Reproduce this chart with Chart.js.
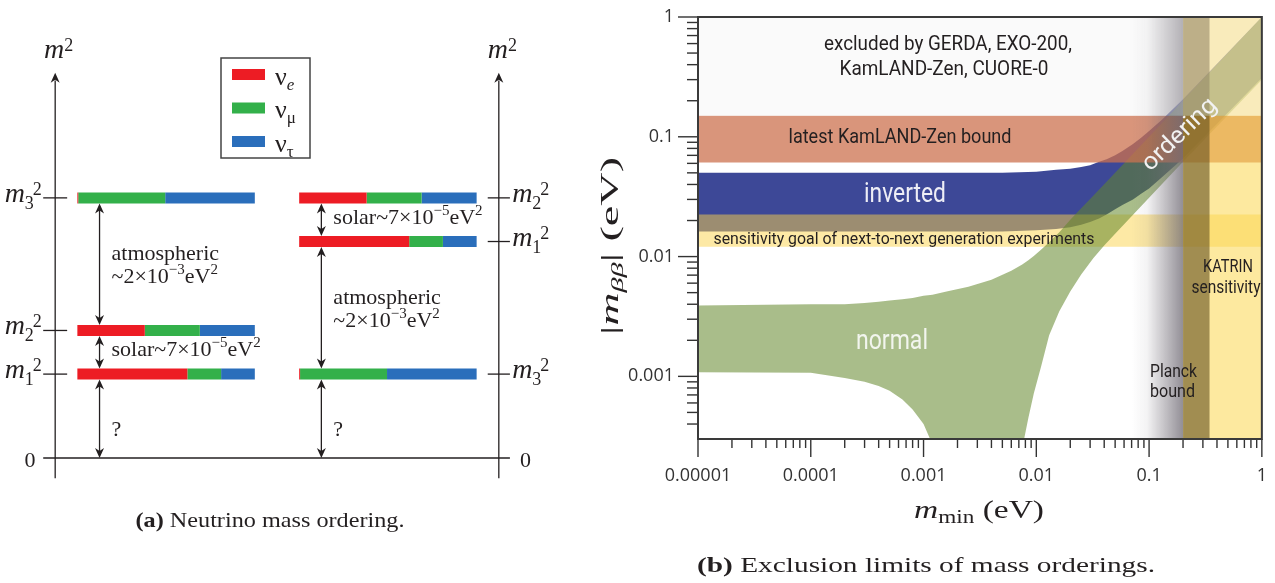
<!DOCTYPE html>
<html>
<head>
<meta charset="utf-8">
<title>Neutrino mass ordering</title>
<script src="https://cdn.jsdelivr.net/npm/chart.js"></script>
<style>
  body { margin:0; background:#fff; }
  #wrap { position:relative; width:1275px; height:583px; overflow:hidden; }
  canvas { position:absolute; top:0; }
  #left { left:0; }
  #right { left:580px; }
</style>
</head>
<body>
<div id="wrap">
  <canvas id="left" width="580" height="583"></canvas>
  <canvas id="right" width="695" height="583"></canvas>
</div>
<script>
// ---- (a) mass levels, m^2 in arbitrary units, index = mass state 1,2,3
const massStates = ['1', '2', '3'];
const normalLevels = [1.0, 1.52, 3.1];
const invertedLevels = [2.58, 3.1, 1.0];
const flavourNames = ['e', 'μ', 'τ'];
const flavourColors = ['#ed1c24', '#33b04a', '#2a6ebb'];
const eShare   = [0.62, 0.38, 0.005];
const muShare  = [0.19, 0.31, 0.49];
const tauShare = [0.19, 0.31, 0.505];

// ---- (b) |m_bb| (eV) against m_min (eV)
const normalM     = [1e-5, 1e-4, 2e-4, 3e-4, 4e-4, 5e-4, 6.5e-4, 8e-4, 0.001, 0.0012, 0.0016, 0.0025, 0.004, 0.006, 0.0075, 0.0085, 0.0095, 0.011, 0.013, 0.016, 0.02, 0.025, 0.032, 0.04, 0.05, 0.1, 0.2, 1];
const normalUpper = [0.0039, 0.0040, 0.0040, 0.0041, 0.0042, 0.0043, 0.0044, 0.0045, 0.0047, 0.0048, 0.0051, 0.0056, 0.0064, 0.0076, 0.0086, 0.0093, 0.0101, 0.0114, 0.0132, 0.016, 0.0203, 0.0253, 0.0322, 0.0402, 0.0502, 0.1, 0.2, 1];
const normalLower = [0.00108, 0.00107, 0.00097, 0.0009, 0.00083, 0.00076, 0.00064, 0.00053, 0.0004, 0.00027, 0.00012, 0.0001, 0.0001, 0.00012, 0.00025, 0.00045, 0.00072, 0.0012, 0.0022, 0.0035, 0.0051, 0.0071, 0.0097, 0.0124, 0.0155, 0.031, 0.062, 0.30];
const invertedM     = [1e-5, 0.001, 0.005, 0.01, 0.015, 0.02, 0.025, 0.03, 0.036, 0.042, 0.05, 0.058, 0.072, 0.085, 0.1, 0.13, 0.2, 1];
const invertedUpper = [0.050, 0.050, 0.050, 0.051, 0.053, 0.054, 0.056, 0.058, 0.062, 0.065, 0.070, 0.076, 0.087, 0.098, 0.112, 0.139, 0.206, 1.0];
const invertedLower = [0.0162, 0.0162, 0.0162, 0.0166, 0.0170, 0.0176, 0.0184, 0.0194, 0.0208, 0.0224, 0.0248, 0.027, 0.030, 0.0335, 0.037, 0.046, 0.066, 0.31];
const sensitivityBand = [0.0121, 0.0224];
const kamlandBand = [0.061, 0.15];
const excludedBand = [0.15, 1];
const planckFade = [0.07, 0.2];
const planckBand = [0.2, 0.345];
const katrinBand = [0.2, 1];
const xMin = 1e-5, xMax = 1, yMin = 3e-4, yMax = 1;
const xTicks = [1e-5, 1e-4, 1e-3, 1e-2, 1e-1, 1];
const xTickLabels = ['0.00001', '0.0001', '0.001', '0.01', '0.1', '1'];
const yTicks = [1e-3, 1e-2, 1e-1, 1];
const yTickLabels = ['0.001', '0.01', '0.1', '1'];

const SERIF = '"Liberation Serif", "DejaVu Serif", serif';
const NARROW = '"Liberation Sans Narrow", Roboto, "Liberation Sans", sans-serif';
const INK = '#231f20';

function seg(c, x1, y1, x2, y2) { c.beginPath(); c.moveTo(x1, y1); c.lineTo(x2, y2); c.stroke(); }
function head(c, x, y, up) {
  const d = up ? 1 : -1, L = 10, W = 4.5;
  c.beginPath(); c.moveTo(x, y); c.lineTo(x - W, y + d * L); c.lineTo(x, y + d * L * 0.7); c.lineTo(x + W, y + d * L); c.closePath(); c.fill();
}
// parts: [text, font, dy, extraAdvance]
function rich(c, parts, x, y, o = {}) {
  c.save();
  let w = 0;
  const ws = parts.map(p => { c.font = p[1]; const m = c.measureText(p[0]).width + (p[3] || 0); w += m; return m; });
  const s = o.width ? o.width / w : 1;
  c.translate(x, y);
  if (o.rot) c.rotate(o.rot);
  c.scale(s, 1);
  let cx = o.align === 'center' ? -w / 2 : o.align === 'right' ? -w : 0;
  c.fillStyle = o.color || INK;
  c.textBaseline = o.base || 'alphabetic';
  c.textAlign = 'left';
  parts.forEach((p, i) => { c.font = p[1]; c.fillText(p[0], cx, p[2] || 0); cx += ws[i]; });
  c.restore();
}
const f = (px, st) => (st ? st + ' ' : '') + px + 'px ' + SERIF;

// ---------- left panel ----------
const shares = [eShare, muShare, tauShare];
const leftSets = [];
[[normalLevels, 0.5], [invertedLevels, 5.5]].forEach(([levels, x0]) => {
  levels.forEach((lvl, i) => {
    let a = x0;
    shares.forEach((s, k) => {
      const b = a + 4 * s[i];
      leftSets.push({ data: [{ x: a, y: lvl }, { x: b, y: lvl }], borderColor: flavourColors[k],
        borderWidth: 11, borderCapStyle: 'butt', pointRadius: 0, fill: false });
      a = b;
    });
  });
});

function massLabel(i) {
  return [['m', f(28, 'italic')], [massStates[i], f(18), 7, -1], ['2', f(18), -7]];
}

const leftDecor = {
  id: 'leftDecor',
  afterDatasetsDraw(chart) {
    const c = chart.ctx, X = v => chart.scales.x.getPixelForValue(v), Y = v => chart.scales.y.getPixelForValue(v);
    c.save();
    c.strokeStyle = INK; c.fillStyle = INK; c.lineWidth = 1.3;
    [0, 10].forEach(a => { seg(c, X(a), Y(-0.24), X(a), Y(4.5)); head(c, X(a), Y(4.59), true); });
    seg(c, X(-0.27), Y(0), X(10.25), Y(0));
    normalLevels.forEach(l => seg(c, X(-0.27), Y(l), X(0.27), Y(l)));
    invertedLevels.forEach(l => seg(c, X(9.75), Y(l), X(10.25), Y(l)));

    rich(c, [['m', f(28, 'italic')], ['2', f(18), -7]], X(-0.25), 58);
    rich(c, [['m', f(28, 'italic')], ['2', f(18), -7]], X(9.75), 58);
    normalLevels.forEach((l, i) => rich(c, massLabel(i), X(-0.3), Y(l) + 4, { align: 'right' }));
    invertedLevels.forEach((l, i) => rich(c, massLabel(i), X(10.3), Y(l) + 4));
    rich(c, [['0', f(22)]], X(-0.57), Y(0) + 9, { align: 'center' });
    rich(c, [['0', f(22)]], X(10.6), Y(0) + 9, { align: 'center' });

    // gaps between levels
    [[normalLevels, 1.0], [invertedLevels, 6.0]].forEach(([levels, ax]) => {
      const order = levels.map((l, i) => i).sort((p, q) => levels[q] - levels[p]);
      const stops = order.map(i => ({ i, l: levels[i] })).concat([{ i: -1, l: 0 }]);
      for (let k = 0; k < stops.length - 1; k++) {
        const hi = stops[k], lo = stops[k + 1];
        const y1 = Y(hi.l) + 5.5, y2 = lo.i < 0 ? Y(0) : Y(lo.l) - 5.5;
        seg(c, X(ax), y1 + 3, X(ax), y2 - 3);
        head(c, X(ax), y1, true); head(c, X(ax), y2, false);
        const tx = X(ax) + 12, mid = (y1 + y2) / 2;
        const sup = (t) => [t, f(15), -9];
        if (lo.i < 0) rich(c, [['?', f(22)]], tx, mid + 17);
        else if (hi.i !== 2 && lo.i !== 2) rich(c, [['solar~7×10', f(22)], sup('−5'), ['eV', f(22)], sup('2')], tx, mid + 4);
        else {
          rich(c, [['atmospheric', f(22)]], tx, mid - 4);
          rich(c, [['~2×10', f(22)], sup('−3'), ['eV', f(22)], sup('2')], tx, mid + 19);
        }
      }
    });

    // legend
    c.lineWidth = 1.5; c.strokeStyle = '#444';
    c.strokeRect(221, 58, 89, 100);
    flavourNames.forEach((n, k) => {
      const cy = 74.5 + k * 33.5;
      c.fillStyle = flavourColors[k]; c.fillRect(232, cy - 5.5, 33, 11);
      rich(c, [['ν', f(26)], [n, k === 0 ? f(17, 'italic') : f(17), 5]], 275, cy + 10);
    });

    rich(c, [['(a)', f(22, 'bold')], [' Neutrino mass ordering.', f(22)]], 270, 527, { align: 'center', width: 269 });
    c.restore();
  }
};

new Chart(document.getElementById('left'), {
  type: 'line',
  data: { datasets: leftSets },
  options: {
    responsive: false, animation: false,
    layout: { padding: { left: 33, right: 59, top: 72, bottom: 104 } },
    plugins: { legend: { display: false }, tooltip: { enabled: false } },
    scales: {
      x: { type: 'linear', min: -0.5, max: 10.5, display: false },
      y: { type: 'linear', min: -0.25, max: 4.6, display: false }
    }
  },
  plugins: [leftDecor]
});

// ---------- right panel ----------
const clear = 'rgba(0,0,0,0)';
const pts = (xs, ys) => xs.map((x, i) => ({ x, y: ys[i] }));
function band(xs, lo, hi, color, order) {
  return [
    { data: pts(xs, lo), borderColor: clear, borderWidth: 0, fill: false, order },
    { data: pts(xs, hi), borderColor: clear, borderWidth: 0, fill: '-1', backgroundColor: color, order }
  ];
}
const hBand = (b, color, order) => ({ data: [{ x: xMin, y: b[1] }, { x: xMax, y: b[1] }], borderColor: clear, borderWidth: 0, fill: { value: b[0] }, backgroundColor: color, order });
const vBand = (b, color, order) => ({ data: [{ x: b[0], y: yMax }, { x: b[1], y: yMax }], borderColor: clear, borderWidth: 0, fill: 'start', backgroundColor: color, order });

const fadeColor = ctx => {
  const ch = ctx.chart;
  if (!ch.chartArea) return clear;
  const g = ch.ctx.createLinearGradient(ch.scales.x.getPixelForValue(planckFade[0]), 0, ch.scales.x.getPixelForValue(planckFade[1]), 0);
  g.addColorStop(0, 'rgba(110,105,115,0)');
  g.addColorStop(0.3, 'rgba(110,105,115,0.08)');
  g.addColorStop(1, 'rgba(110,105,115,0.75)');
  return g;
};

const rightSets = [
  ...band(invertedM, invertedLower, invertedUpper, 'rgba(40,52,140,0.9)', 10),
  hBand(sensitivityBand, 'rgba(251,211,75,0.5)', 9),
  ...band(normalM, normalLower, normalUpper, 'rgba(98,135,42,0.55)', 8),
  hBand(kamlandBand, 'rgba(204,114,79,0.75)', 7),
  vBand(planckFade, fadeColor, 6),
  vBand(katrinBand, 'rgba(252,215,80,0.55)', 5),
  vBand(planckBand, 'rgba(100,80,30,0.6)', 4),
  hBand(excludedBand, 'rgba(240,240,240,0.35)', 3)
];

function narrow(c, t, x, y, size, width, color, o = {}) {
  rich(c, [[t, size + 'px ' + NARROW]], x, y, Object.assign({ align: 'center', base: 'middle', width, color }, o));
}

const rightDecor = {
  id: 'rightDecor',
  afterDraw(chart) {
    const c = chart.ctx, a = chart.chartArea, sx = chart.scales.x, sy = chart.scales.y;
    c.save();
    c.strokeStyle = '#333'; c.lineWidth = 1.4;
    for (let e = -5; e <= 0; e++) for (let k = 1; k <= 9; k++) {
      const v = k * Math.pow(10, e);
      if (v < xMin * 0.999 || v > xMax * 1.001) continue;
      const px = sx.getPixelForValue(v);
      seg(c, px, a.bottom, px, a.bottom + (k === 1 ? 18 : 9));
    }
    for (let e = -4; e <= 0; e++) for (let k = 1; k <= 9; k++) {
      const v = k * Math.pow(10, e);
      if (v < yMin * 1.01 || v > yMax * 1.001) continue;
      const py = sy.getPixelForValue(v);
      seg(c, a.left - (k === 1 ? 20 : 11), py, a.left, py);
    }
    c.lineWidth = 2; c.strokeStyle = '#3a3a3a';
    c.strokeRect(a.left, a.top, a.right - a.left, a.bottom - a.top);

    narrow(c, 'excluded by GERDA, EXO-200,', 368, 45, 21, 248, INK);
    narrow(c, 'KamLAND-Zen, CUORE-0', 364, 70, 21, 209, INK);
    narrow(c, 'latest KamLAND-Zen bound', 320, 138, 21, 223, INK);
    narrow(c, 'inverted', 325, 195, 27, 82, '#eeeef6');
    narrow(c, 'sensitivity goal of next-to-next generation experiments', 324, 240, 17, 381, INK);
    narrow(c, 'normal', 312, 342, 27, 72, '#f2f5ee');
    narrow(c, 'ordering', 600, 135, 24, 94, '#f2f2f2', { rot: -44 * Math.PI / 180 });
    narrow(c, 'KATRIN', 648, 267, 18, 50, INK);
    narrow(c, 'sensitivity', 646, 288, 18, 69, INK);
    narrow(c, 'Planck', 570, 372, 18, 47, INK, { align: 'left' });
    narrow(c, 'bound', 570, 392, 18, 45, INK, { align: 'left' });

    rich(c, [['|', f(26)], ['m', f(26, 'italic')], ['ββ', f(17, 'italic'), 5], ['|', f(26)], [' (eV)', f(26)]],
      38, 246, { align: 'center', rot: -Math.PI / 2, width: 178 });
    rich(c, [['m', f(26, 'italic')], ['min', f(18), 5], [' (eV)', f(26)]], 399, 518, { align: 'center', width: 130 });
    rich(c, [['(b)', f(22, 'bold')], [' Exclusion limits of mass orderings.', f(22)]], 346, 572, { align: 'center', width: 458 });
    c.restore();
  }
};

const tickFont = { family: '"Open Sans", sans-serif', size: 18 };
new Chart(document.getElementById('right'), {
  type: 'line',
  data: { datasets: rightSets },
  options: {
    responsive: false, animation: false,
    layout: { padding: { top: 17, right: 13, left: 0, bottom: 0 } },
    plugins: { legend: { display: false }, tooltip: { enabled: false } },
    elements: { point: { radius: 0 }, line: { tension: 0 } },
    scales: {
      x: {
        type: 'logarithmic', min: xMin, max: xMax,
        afterFit: s => { s.height = 144; },
        afterBuildTicks: s => { s.ticks = xTicks.map(v => ({ value: v })); },
        grid: { display: false, drawTicks: true, tickLength: 18 }, border: { display: false },
        ticks: { autoSkip: false, maxRotation: 0, padding: 8, color: '#333', font: tickFont, callback: (v, i) => xTickLabels[i] }
      },
      y: {
        type: 'logarithmic', min: yMin, max: yMax,
        afterFit: s => { s.width = 118; },
        afterBuildTicks: s => { s.ticks = yTicks.map(v => ({ value: v })); },
        grid: { display: false, drawTicks: true, tickLength: 20 }, border: { display: false },
        ticks: { autoSkip: false, padding: 4, color: '#333', font: tickFont, callback: (v, i) => yTickLabels[i] }
      }
    }
  },
  plugins: [rightDecor]
});
</script>
</body>
</html>
